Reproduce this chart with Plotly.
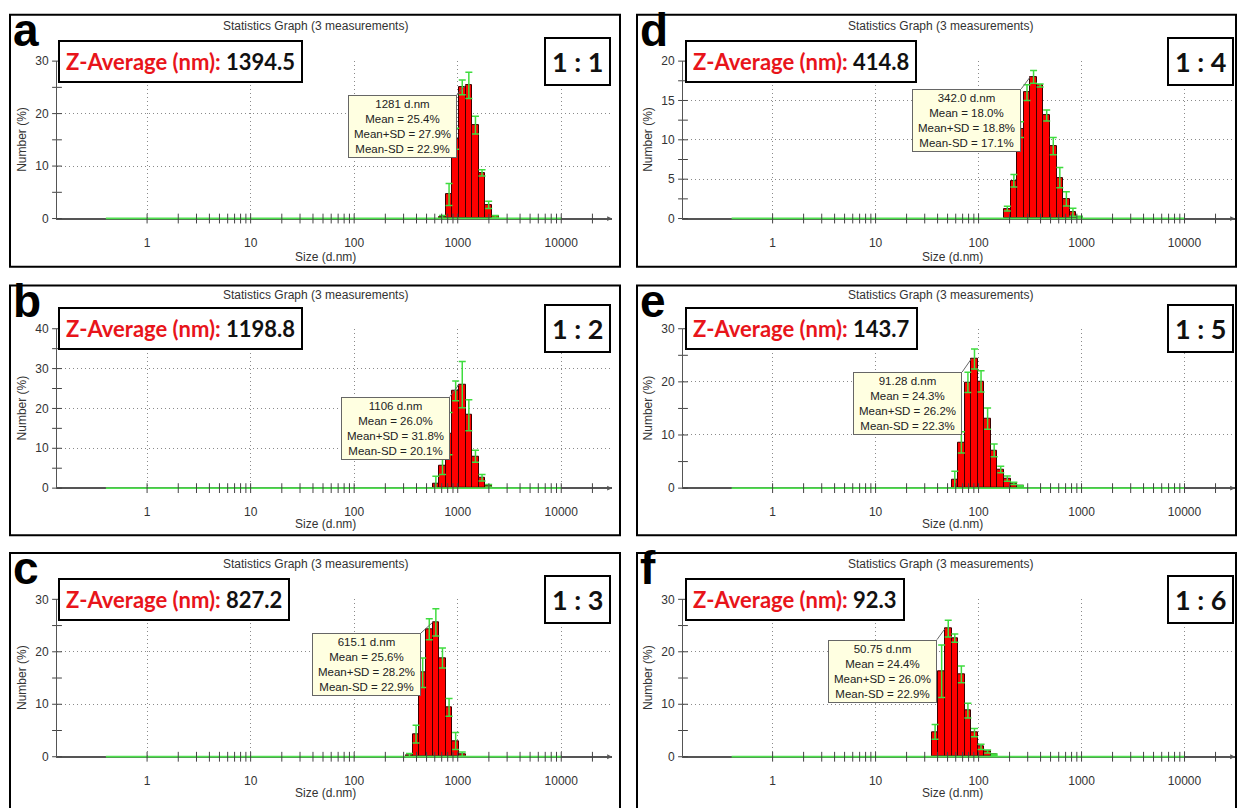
import math
import plotly.graph_objects as go

W, H = 1241, 808


def fx(px):
    return px / W


def fy(py):
    return 1 - py / H


# ---------------- data ----------------
a_size = [712.4, 825.0, 955.4, 1106, 1281, 1484, 1718, 1990, 2305]
a_num = [0.3, 4.6, 15.2, 25.0, 25.4, 17.8, 8.7, 2.6, 0.4]
a_sd = [0.3, 2.1, 2.0, 1.4, 2.5, 1.7, 0.6, 0.7, 0.2]

b_size = [615.1, 712.4, 825.0, 955.4, 1106, 1281, 1484, 1718, 1990]
b_num = [1.2, 5.5, 13.7, 24.4, 26.0, 18.3, 8.0, 2.6, 0.6]
b_sd = [1.8, 2.1, 5.3, 2.5, 5.8, 3.9, 1.5, 0.8, 0.3]

c_size = [342.0, 396.1, 458.7, 531.2, 615.1, 712.4, 825.0, 955.4, 1106]
c_num = [0.3, 4.3, 16.0, 24.3, 25.6, 18.8, 9.4, 3.0, 0.5]
c_sd = [0.3, 1.7, 2.8, 2.0, 2.6, 1.9, 1.7, 1.6, 0.4]

d_size = [190.1, 220.2, 255.0, 295.3, 342.0, 396.1, 458.7, 531.2, 615.1, 712.4, 825.0, 955.4]
d_num = [1.25, 4.8, 11.3, 16.0, 18.0, 16.9, 13.1, 9.2, 5.2, 2.5, 0.8, 0.2]
d_sd = [0.3, 0.8, 1.0, 1.0, 0.8, 0.2, 0.7, 1.1, 1.3, 0.9, 0.5, 0.1]

e_size = [58.77, 68.06, 78.82, 91.28, 105.7, 122.4, 141.8, 164.2, 190.1, 220.2, 255.0]
e_num = [1.6, 8.6, 19.9, 24.3, 20.1, 13.1, 7.1, 3.5, 1.8, 0.9, 0.4]
e_sd = [1.6, 2.0, 1.9, 1.9, 2.0, 2.0, 1.2, 0.6, 0.5, 0.2, 0.1]

f_size = [37.84, 43.82, 50.75, 58.77, 68.06, 78.82, 91.28, 105.7, 122.4, 141.8]
f_num = [4.75, 16.3, 24.4, 22.6, 15.7, 8.8, 4.6, 1.9, 1.0, 0.4]
f_sd = [1.4, 5.0, 1.6, 0.8, 1.6, 1.4, 0.8, 0.5, 0.3, 0.1]

letters = ["a", "b", "c", "d", "e", "f"]
z_average = ["1394.5", "1198.8", "827.2", "414.8", "143.7", "92.3"]
ratios = ["1 : 1", "1 : 2", "1 : 3", "1 : 4", "1 : 5", "1 : 6"]
peak_size = ["1281", "1106", "615.1", "342.0", "91.28", "50.75"]
peak_mean = ["25.4", "26.0", "25.6", "18.0", "24.3", "24.4"]
peak_plus = ["27.9", "31.8", "28.2", "18.8", "26.2", "26.0"]
peak_minus = ["22.9", "20.1", "22.9", "17.1", "22.3", "22.9"]
y_top = [30, 40, 30, 20, 30, 30]
y_major = [10, 10, 10, 5, 10, 10]
y_minor = [5, 5, 5, 2.5, 5, 5]

x_tick_vals = [1, 10, 100, 1000, 10000]
x_tick_text = ["1", "10", "100", "1000", "10000"]
x_minor_ticks = [k * 10 ** d for d in range(4) for k in range(1, 10)] + [10000, 20000]
size_min, size_max = 0.4, 10000
bin_ratio = 825.0 / 712.4

sizes = [a_size, b_size, c_size, d_size, e_size, f_size]
nums = [a_num, b_num, c_num, d_num, e_num, f_num]
sds = [a_sd, b_sd, c_sd, d_sd, e_sd, f_sd]

# ---------------- geometry ----------------
col_axis_px = [(57, 612), (683, 1235)]
row_axis_px = [(215, 55), (489, 327), (762, 602)]
box_x_px = [(10, 620), (637, 1236)]
box_y_px = [(8, 264), (283, 537), (555, 820)]
title_y_px = [19, 293, 566]
xlabel_y_px = [254, 525, 799]
zbox_y_px = [55.5, 327, 602]
ylabel_x_px = [22, 648]
xlabel_x_px = [325, 952]
title_x_px = [315, 940]
zbox_x_px = [58, 685]
ratio_x_px = [611, 1234]
tip_offsets = [(-9, 10), (-9, 12), (-12, 11), (-9, 12), (-9, 13), (-8, 11)]
X_LO, X_HI = -0.87, 4.49
bw = math.log10(bin_ratio)

fig = go.Figure()
annotations = []
shapes = []
layout = {}

FONT = "Liberation Sans, Arial, sans-serif"
GREEN = "#4fe04f"
GRID = "#8a8a8a"

for i in range(6):
    col, row = divmod(i, 3)
    n = i + 1
    xs = "" if n == 1 else str(n)
    xa, ya = "x" + xs, "y" + xs
    ax0, ax1 = col_axis_px[col]
    y0px, ytpx = row_axis_px[row]
    top = y_top[i]
    ppu = (y0px - ytpx) / top
    lo = -1.0 / ppu

    layout["xaxis" + xs] = dict(
        domain=[fx(ax0), fx(ax1)], anchor=ya, range=[X_LO, X_HI],
        tickvals=[math.log10(v) for v in x_tick_vals], ticktext=x_tick_text,
        showgrid=True, gridcolor=GRID, griddash="1px,3px", gridwidth=1,
        zeroline=False, showline=False, ticks="",
        tickfont=dict(family=FONT, size=12, color="#333"),
        ticklabelstandoff=14, fixedrange=True,
    )
    yt = [k * y_major[i] for k in range(int(top / y_major[i]) + 1)]
    layout["yaxis" + xs] = dict(
        domain=[fy(y0px + 1), fy(ytpx)], anchor=xa, range=[lo, top],
        tickvals=yt, ticktext=[str(int(v)) for v in yt],
        showgrid=True, gridcolor=GRID, griddash="1px,3px", gridwidth=1,
        zeroline=True, zerolinecolor="#555", zerolinewidth=1.5,
        showline=True, linecolor="#555", linewidth=1, ticks="",
        tickfont=dict(family=FONT, size=12, color="#333"),
        ticklabelstandoff=5, fixedrange=True,
    )

    # green baseline over the measured size range
    fig.add_trace(go.Scatter(
        x=[math.log10(size_min), math.log10(size_max)], y=[0, 0], mode="lines",
        line=dict(color=GREEN, width=2), xaxis=xa, yaxis=ya, hoverinfo="skip"))
    # bars
    fig.add_trace(go.Bar(
        x=[math.log10(s) for s in sizes[i]], y=nums[i], width=bw,
        marker=dict(color="#ff0000", line=dict(color="#3a0000", width=1)),
        error_y=dict(type="data", array=sds[i], color="#3fdc3f", thickness=1.5, width=3.5),
        xaxis=xa, yaxis=ya))
    # x ticks crossing the axis
    fig.add_trace(go.Scatter(
        x=[math.log10(v) for v in x_minor_ticks], y=[0] * len(x_minor_ticks), mode="markers",
        marker=dict(symbol="line-ns", size=7, line=dict(color="#444", width=1)),
        xaxis=xa, yaxis=ya, cliponaxis=False, hoverinfo="skip"))
    # y ticks crossing the axis
    ym = [k * y_minor[i] for k in range(int(round(top / y_minor[i])) + 1)]
    fig.add_trace(go.Scatter(
        x=[X_LO] * len(ym), y=ym, mode="markers",
        marker=dict(symbol="line-ew", size=7, line=dict(color="#444", width=1)),
        xaxis=xa, yaxis=ya, cliponaxis=False, hoverinfo="skip"))

    # panel frame
    bx0, bx1 = box_x_px[col]
    by0, by1 = box_y_px[row]
    shapes.append(dict(type="rect", xref="paper", yref="paper",
                       x0=fx(bx0), x1=fx(bx1), y0=fy(by1), y1=fy(by0),
                       line=dict(color="black", width=2), fillcolor="rgba(0,0,0,0)"))

    # title
    annotations.append(dict(xref="paper", yref="paper", x=fx(title_x_px[col]), y=fy(title_y_px[row]),
                            text="Statistics Graph (3 measurements)", showarrow=False,
                            font=dict(family=FONT, size=12, color="#333"),
                            xanchor="center", yanchor="middle"))
    # axis titles
    annotations.append(dict(xref="paper", yref="paper", x=fx(xlabel_x_px[col]), y=fy(xlabel_y_px[row]),
                            text="Size (d.nm)", showarrow=False,
                            font=dict(family=FONT, size=12, color="#333"),
                            xanchor="center", yanchor="middle"))
    annotations.append(dict(xref="paper", yref="paper", x=fx(ylabel_x_px[col]), y=fy((y0px + ytpx) / 2),
                            text="Number (%)", showarrow=False, textangle=-90,
                            font=dict(family=FONT, size=12, color="#333"),
                            xanchor="center", yanchor="middle"))
    # axis arrow
    annotations.append(dict(xref="paper", yref="paper", x=fx(ax1), y=fy(y0px),
                            ax=-9, ay=0, showarrow=True, arrowhead=2, arrowsize=0.8,
                            arrowwidth=1.2, arrowcolor="#555", text=""))
    # Z-average box
    annotations.append(dict(xref="paper", yref="paper", x=fx(zbox_x_px[col]), y=fy(zbox_y_px[row]),
                            text="<b><span style='color:#e8141a'>Z-Average (nm):</span> "
                                 + z_average[i] + "</b>",
                            showarrow=False, font=dict(family="Lato, sans-serif", size=22, color="#111"),
                            xanchor="left", yanchor="middle", bgcolor="white",
                            bordercolor="black", borderwidth=2, borderpad=6))
    # ratio box
    annotations.append(dict(xref="paper", yref="paper", x=fx(ratio_x_px[col]), y=fy(zbox_y_px[row]),
                            text="<b>" + ratios[i] + "</b>",
                            showarrow=False, font=dict(family="Lato, sans-serif", size=27, color="#111"),
                            xanchor="right", yanchor="middle", bgcolor="white",
                            bordercolor="black", borderwidth=2, borderpad=6))
    # panel letter
    annotations.append(dict(xref="paper", yref="paper", x=fx(bx0 + 1), y=fy(by0 - 13),
                            text="<b>" + letters[i] + "</b>", showarrow=False,
                            font=dict(family=FONT, size=46, color="black"),
                            xanchor="left", yanchor="top"))
    # peak tooltip
    k = nums[i].index(max(nums[i]))
    ox, oy = tip_offsets[i]
    annotations.append(dict(
        xref=xa, yref=ya, x=math.log10(sizes[i][k]) - bw / 2, y=nums[i][k],
        ax=ox, ay=oy, showarrow=True, arrowhead=0, arrowwidth=1, arrowcolor="#666", standoff=0,
        text=(peak_size[i] + " d.nm<br>Mean = " + peak_mean[i] + "%<br>Mean+SD = "
              + peak_plus[i] + "%<br>Mean-SD = " + peak_minus[i] + "%"),
        font=dict(family=FONT, size=11.5, color="#222"), align="center",
        xanchor="right", yanchor="top", bgcolor="#ffffe1", bordercolor="#666",
        borderwidth=1, borderpad=2, width=103))

fig.update_layout(
    width=W, height=H, margin=dict(l=0, r=0, t=0, b=0),
    paper_bgcolor="white", plot_bgcolor="rgba(0,0,0,0)", showlegend=False,
    bargap=0, annotations=annotations, shapes=shapes, **layout)

fig.write_html("out.html")
